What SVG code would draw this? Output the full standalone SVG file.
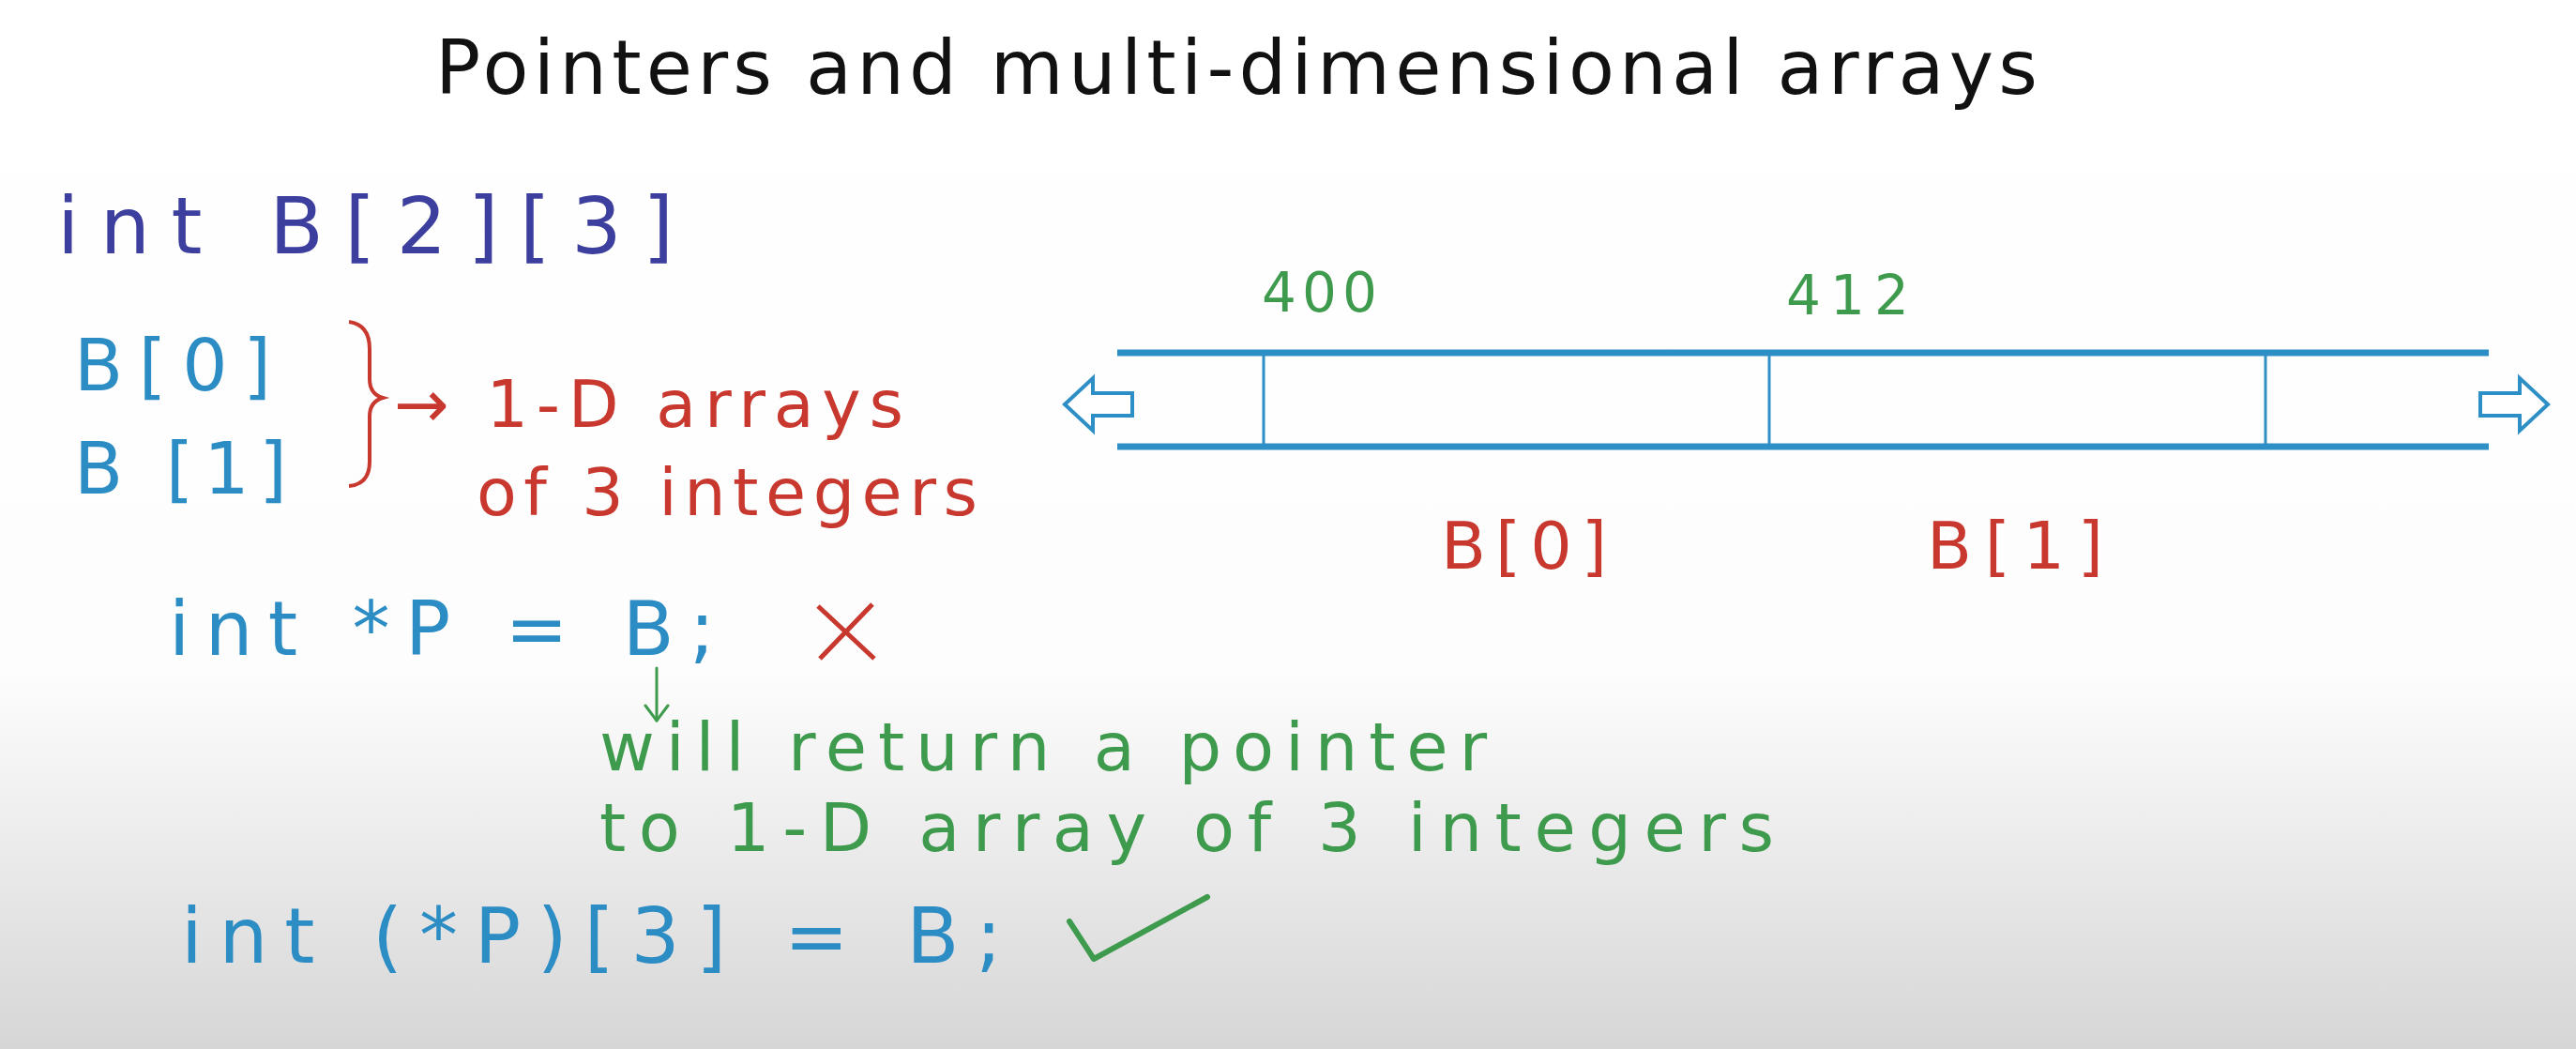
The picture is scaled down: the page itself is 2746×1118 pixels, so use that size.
<svg xmlns="http://www.w3.org/2000/svg" width="2746" height="1118" viewBox="0 0 2746 1118">
<defs>
<linearGradient id="bg" x1="0" y1="0" x2="0" y2="1">
<stop offset="0" stop-color="#ffffff"/>
<stop offset="0.64" stop-color="#fdfdfd"/>
<stop offset="0.8" stop-color="#ececec"/>
<stop offset="1" stop-color="#d6d6d6"/>
</linearGradient>
<style>
text{font-family:"DejaVu Sans","Liberation Sans",sans-serif}
.title{fill:#111;font-size:80px}
.indigo{fill:#3d3f9e}
.blue{fill:#2c8cc4}
.red{fill:#c8382e}
.green{fill:#3e9a4c}
.strip{stroke:#2e8fc6;fill:none}
.hollow{stroke:#2e8fc6;fill:#fff;stroke-width:4;stroke-linejoin:miter}
.garrow{stroke:#3e9a4c;fill:none;stroke-width:3;stroke-linecap:round;stroke-linejoin:round}
</style>
</defs>
<rect width="2746" height="1118" fill="url(#bg)"/>

<g id="title"><text class="title" x="464" y="100" textLength="1708" lengthAdjust="spacing">Pointers and multi-dimensional arrays</text></g>

<g id="decl"><text class="indigo" x="61" y="270" font-size="84" textLength="657" lengthAdjust="spacing">int B[2][3]</text></g>

<g id="b0-left"><text class="blue" x="79" y="416" font-size="76" textLength="210" lengthAdjust="spacing">B[0]</text></g>
<g id="b1-left"><text class="blue" x="79" y="526" font-size="76" textLength="227" lengthAdjust="spacing">B [1]</text></g>

<g id="brace"><path d="M372,343 Q394,346 394,372 L394,404 Q394,420 408,424 Q394,428 394,444 L394,492 Q394,516 372,518" fill="none" stroke="#c8382e" stroke-width="4"/></g>
<g id="note1">
<text class="red" x="420" y="455" font-size="70" textLength="543" lengthAdjust="spacing">→ 1-D arrays</text>
<text class="red" x="508" y="549" font-size="70" textLength="534" lengthAdjust="spacing">of 3 integers</text>
</g>

<g id="memory">
<line class="strip" x1="1191" y1="376" x2="2653" y2="376" stroke-width="7"/>
<line class="strip" x1="1191" y1="476" x2="2653" y2="476" stroke-width="7"/>
<line class="strip" x1="1347" y1="376" x2="1347" y2="476" stroke-width="3"/>
<line class="strip" x1="1886" y1="376" x2="1886" y2="476" stroke-width="3"/>
<line class="strip" x1="2415" y1="376" x2="2415" y2="476" stroke-width="3"/>
<polygon class="hollow" points="1135,431 1165,403 1165,419 1207,419 1207,443 1165,443 1165,459"/>
<polygon class="hollow" points="2716,431 2686,403 2686,419 2644,419 2644,443 2686,443 2686,459"/>
</g>
<g id="addr400"><text class="green" x="1345" y="332" font-size="58" textLength="123" lengthAdjust="spacing">400</text></g>
<g id="addr412"><text class="green" x="1904" y="335" font-size="58" textLength="131" lengthAdjust="spacing">412</text></g>
<g id="b0-mem"><text class="red" x="1536" y="606" font-size="70" textLength="177" lengthAdjust="spacing">B[0]</text></g>
<g id="b1-mem"><text class="red" x="2054" y="606" font-size="70" textLength="188" lengthAdjust="spacing">B[1]</text></g>

<g id="wrong"><text class="blue" x="180" y="698" font-size="80" textLength="582" lengthAdjust="spacing">int *P = B;</text></g>
<g id="cross"><path d="M872,646 L932,702 M930,644 L874,702" fill="none" stroke="#c8382e" stroke-width="5"/></g>

<g id="note2">
<text class="green" x="639" y="821" font-size="72" textLength="946" lengthAdjust="spacing">will return a pointer</text>
<text class="green" x="639" y="907" font-size="72" textLength="1252" lengthAdjust="spacing">to 1-D array of 3 integers</text>
</g>

<g id="right"><text class="blue" x="193" y="1026" font-size="82" textLength="875" lengthAdjust="spacing">int (*P)[3] = B;</text></g>
<g id="check"><path d="M1140,982 L1166,1022 L1287,956" fill="none" stroke="#3e9a4c" stroke-width="6" stroke-linecap="round" stroke-linejoin="round"/></g>

<g id="connectors">
<path class="garrow" d="M700,712 L700,768"/>
<path class="garrow" d="M688,752 L700,768 L712,752"/>
</g>
</svg>
